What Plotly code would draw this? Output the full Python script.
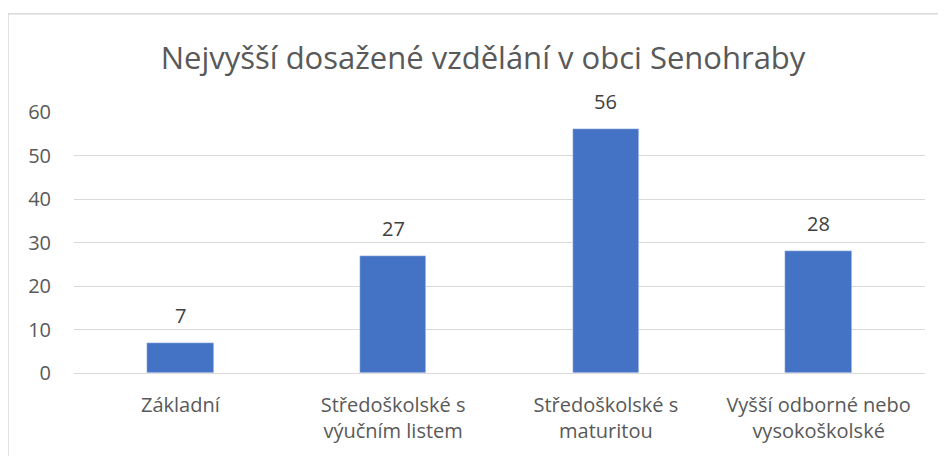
import plotly.graph_objects as go

categories = ["Základní", "Středoškolské s<br>výučním listem", "Středoškolské s<br>maturitou", "Vyšší odborné nebo<br>vysokoškolské"]
values = [7, 27, 56, 28]
title = "Nejvyšší dosažené vzdělání v obci Senohraby"

OFF = 8  # page body margin
W, H = 946 - OFF, 456 - OFF
L, R, T, B = 74 - OFF, 21, 112 - OFF, 81
pw = W - L - R
ph = H - T - B

fig = go.Figure(go.Bar(
    x=categories, y=values, marker_color="#4472C4", width=0.313,
))

for c, v in zip(categories, values):
    fig.add_annotation(x=c, y=v, text=str(v), showarrow=False, yanchor="bottom",
                       yshift=12, font=dict(size=20, color="#404040"))

def px_x(p):
    return (p - OFF - L) / pw

def px_y(p):
    return (H - B - (p - OFF)) / ph

fig.update_layout(
    width=W, height=H,
    margin=dict(l=L, r=R, t=T, b=B),
    paper_bgcolor="white", plot_bgcolor="white",
    font=dict(family="Open Sans", color="#595959"),
    title=dict(text=title, x=(483 - OFF) / W, xanchor="center", y=1 - (58 - OFF) / H, yanchor="middle",
               font=dict(size=31, color="#595959")),
    showlegend=False,
    bargap=0,
    xaxis=dict(showline=True, linecolor="#D9D9D9", linewidth=1, ticks="",
               tickfont=dict(size=20, color="#595959"), ticklabelstandoff=14),
    yaxis=dict(range=[0, 60], dtick=10, showgrid=True, gridcolor="#D9D9D9", gridwidth=1,
               zeroline=False, showline=False, tickfont=dict(size=20, color="#595959"),
               ticklabelstandoff=22),
    shapes=[dict(type="rect", xref="paper", yref="paper",
                 x0=px_x(8), x1=px_x(956), y0=px_y(470), y1=px_y(13),
                 line=dict(color="#D9D9D9", width=1.5), fillcolor="rgba(0,0,0,0)", layer="below")],
)

fig.write_html("out.html")
